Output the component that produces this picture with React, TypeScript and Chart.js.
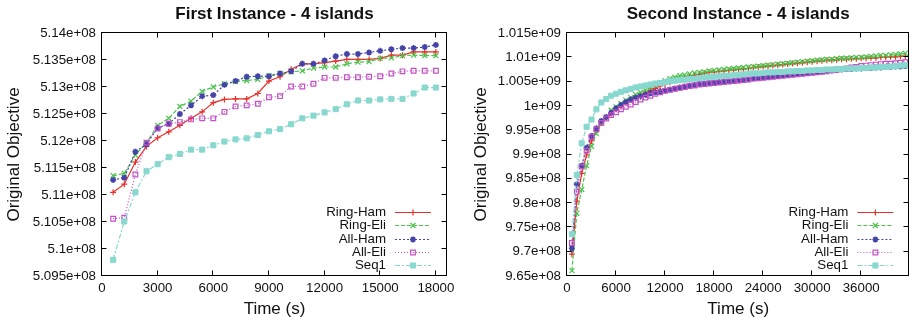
import React, { useEffect, useRef } from 'react';
import { Chart, registerables } from 'chart.js';

Chart.register(...registerables);

const FONT = '"Liberation Sans", Arial, Helvetica, sans-serif';
const SCALE = 1e6; // values below are in units of 1e6

const SERIES_NAMES = ['Ring-Ham', 'Ring-Eli', 'All-Ham', 'All-Eli', 'Seq1'];

// ---------- First Instance ----------
const TIMES_1 = [600, 1200, 1800, 2400, 3000, 3600, 4200, 4800, 5400, 6000, 6600, 7200, 7800, 8400, 9000, 9600, 10200, 10800, 11400, 12000, 12600, 13200, 13800, 14400, 15000, 15600, 16200, 16800, 17400, 18000];
const RING_HAM_1 = [511.05, 511.20, 511.61, 511.90, 512.06, 512.17, 512.29, 512.42, 512.54, 512.71, 512.77, 512.78, 512.78, 512.88, 513.11, 513.19, 513.33, 513.43, 513.43, 513.45, 513.48, 513.51, 513.51, 513.51, 513.53, 513.59, 513.59, 513.65, 513.65, 513.65];
const RING_ELI_1 = [511.36, 511.40, 511.74, 511.97, 512.29, 512.42, 512.64, 512.74, 512.92, 513.00, 513.06, 513.10, 513.12, 513.14, 513.21, 513.25, 513.28, 513.30, 513.35, 513.37, 513.37, 513.43, 513.46, 513.47, 513.53, 513.54, 513.58, 513.59, 513.58, 513.58];
const ALL_HAM_1 = [511.28, 511.32, 511.80, 511.94, 512.24, 512.32, 512.50, 512.66, 512.83, 512.85, 513.04, 513.11, 513.19, 513.20, 513.20, 513.25, 513.29, 513.43, 513.43, 513.49, 513.57, 513.61, 513.61, 513.64, 513.67, 513.70, 513.72, 513.72, 513.74, 513.78];
const ALL_ELI_1 = [510.56, 510.58, 511.38, 511.97, 512.23, 512.32, 512.35, 512.40, 512.42, 512.42, 512.54, 512.64, 512.66, 512.69, 512.81, 512.83, 513.01, 513.01, 513.06, 513.17, 513.17, 513.18, 513.18, 513.19, 513.20, 513.25, 513.29, 513.30, 513.30, 513.30];
const SEQ1_1 = [509.80, 510.51, 511.05, 511.44, 511.57, 511.70, 511.76, 511.84, 511.84, 511.92, 511.99, 512.03, 512.05, 512.11, 512.18, 512.22, 512.31, 512.42, 512.47, 512.53, 512.59, 512.68, 512.75, 512.75, 512.77, 512.78, 512.78, 512.88, 512.99, 512.99];
const X_TICKS_1 = [0, 3000, 6000, 9000, 12000, 15000, 18000];
const Y_TICKS_1 = [509.5, 510, 510.5, 511, 511.5, 512, 512.5, 513, 513.5, 514];

// ---------- Second Instance ----------
const TIMES_2 = [600, 1200, 1800, 2400, 3000, 3600, 4200, 4800, 5400, 6000,
  6600, 7200, 7800, 8400, 9000, 9600, 10200, 10800, 11400, 12000,
  12600, 13200, 13800, 14400, 15000, 15600, 16200, 16800, 17400, 18000,
  18600, 19200, 19800, 20400, 21000, 21600, 22200, 22800, 23400, 24000,
  24600, 25200, 25800, 26400, 27000, 27600, 28200, 28800, 29400, 30000,
  30600, 31200, 31800, 32400, 33000, 33600, 34200, 34800, 35400, 36000,
  36600, 37200, 37800, 38400, 39000, 39600, 40200, 40800, 41400];
const RING_HAM_2 = [969.5, 980.4, 986.1, 989.9, 992.8, 995.0, 996.5, 997.6, 998.4, 999.3,
  999.9, 1000.6, 1001.2, 1001.7, 1002.2, 1002.7, 1003.2, 1003.6, 1004.1, 1004.5,
  1004.9, 1005.3, 1005.6, 1005.9, 1006.1, 1006.3, 1006.5, 1006.7, 1006.9, 1007.0,
  1007.1, 1007.2, 1007.3, 1007.4, 1007.5, 1007.6, 1007.7, 1007.9, 1008.0, 1008.1,
  1008.2, 1008.3, 1008.4, 1008.5, 1008.6, 1008.7, 1008.8, 1008.9, 1009.0, 1009.1,
  1009.2, 1009.3, 1009.4, 1009.4, 1009.5, 1009.6, 1009.6, 1009.7, 1009.7, 1009.8,
  1009.8, 1009.9, 1009.9, 1010.0, 1010.0, 1010.1, 1010.1, 1010.2, 1010.2];
const RING_ELI_2 = [966.1, 977.9, 982.8, 987.7, 991.7, 994.3, 996.4, 997.7, 999.1, 999.8,
  1000.5, 1001.2, 1001.7, 1002.3, 1002.8, 1003.3, 1003.8, 1004.3, 1004.8, 1005.2,
  1005.6, 1005.9, 1006.2, 1006.4, 1006.6, 1006.8, 1006.9, 1007.0, 1007.2, 1007.3,
  1007.4, 1007.5, 1007.6, 1007.7, 1007.8, 1007.9, 1008.0, 1008.1, 1008.2, 1008.3,
  1008.4, 1008.5, 1008.6, 1008.7, 1008.8, 1008.9, 1009.0, 1009.1, 1009.2, 1009.3,
  1009.4, 1009.5, 1009.6, 1009.6, 1009.7, 1009.8, 1009.8, 1009.9, 1010.0, 1010.0,
  1010.1, 1010.2, 1010.3, 1010.4, 1010.4, 1010.5, 1010.6, 1010.7, 1010.8];
const ALL_HAM_2 = [970.7, 983.9, 987.7, 991.4, 993.8, 995.4, 996.9, 997.7, 998.6, 999.5,
  1000.2, 1000.8, 1001.3, 1001.7, 1002.0, 1002.3, 1002.6, 1002.8, 1003.0, 1003.2,
  1003.4, 1003.6, 1003.8, 1004.0, 1004.2, 1004.3, 1004.5, 1004.6, 1004.7, 1004.8,
  1004.9, 1005.0, 1005.1, 1005.2, 1005.3, 1005.4, 1005.5, 1005.7, 1005.8, 1005.9,
  1006.0, 1006.1, 1006.2, 1006.3, 1006.4, 1006.5, 1006.6, 1006.7, 1006.8, 1006.9,
  1007.0, 1007.1, 1007.2, 1007.3, 1007.4, 1007.5, 1007.6, 1007.6, 1007.7, 1007.7,
  1007.8, 1007.8, 1007.9, 1007.9, 1008.0, 1008.0, 1008.1, 1008.1, 1008.2];
const ALL_ELI_2 = [971.8, 982.3, 987.5, 990.8, 993.6, 995.2, 996.5, 997.4, 998.1, 998.7,
  999.3, 999.8, 1000.3, 1000.8, 1001.3, 1001.7, 1002.1, 1002.5, 1002.8, 1003.1,
  1003.3, 1003.5, 1003.7, 1003.9, 1004.1, 1004.2, 1004.4, 1004.5, 1004.6, 1004.7,
  1004.8, 1004.9, 1005.0, 1005.1, 1005.2, 1005.3, 1005.4, 1005.6, 1005.7, 1005.8,
  1005.9, 1006.0, 1006.1, 1006.2, 1006.3, 1006.4, 1006.5, 1006.6, 1006.7, 1006.8,
  1006.9, 1007.0, 1007.1, 1007.3, 1007.4, 1007.6, 1007.7, 1007.9, 1008.0, 1008.2,
  1008.3, 1008.4, 1008.5, 1008.6, 1008.7, 1008.7, 1008.8, 1008.9, 1009.0];
const SEQ1_2 = [973.6, 985.8, 992.3, 995.7, 997.2, 999.3, 1000.7, 1001.4, 1002.1, 1002.5,
  1002.9, 1003.2, 1003.5, 1003.8, 1004.0, 1004.2, 1004.4, 1004.6, 1004.7, 1004.9,
  1005.1, 1005.2, 1005.3, 1005.4, 1005.5, 1005.6, 1005.7, 1005.8, 1005.9, 1006.0,
  1006.1, 1006.2, 1006.2, 1006.3, 1006.4, 1006.5, 1006.6, 1006.7, 1006.7, 1006.8,
  1006.9, 1006.9, 1007.0, 1007.0, 1007.1, 1007.1, 1007.2, 1007.2, 1007.3, 1007.3,
  1007.4, 1007.4, 1007.5, 1007.5, 1007.6, 1007.6, 1007.7, 1007.7, 1007.7, 1007.8,
  1007.8, 1007.9, 1007.9, 1008.0, 1008.0, 1008.1, 1008.2, 1008.3, 1008.4];
const X_TICKS_2 = [0, 6000, 12000, 18000, 24000, 30000, 36000];
const Y_TICKS_2 = [965, 970, 975, 980, 985, 990, 995, 1000, 1005, 1010, 1015];

// ---------- styles ----------
type Sty = { color: string; dash: number[]; point: string; radius: number; filled: boolean; pw: number };
const STYLES: Sty[] = [
  { color: '#e8302a', dash: [], point: 'cross', radius: 3, filled: false, pw: 1.2 },
  { color: '#4cc24c', dash: [4, 2], point: 'crossRot', radius: 3.5, filled: false, pw: 1.2 },
  { color: '#4343a8', dash: [2, 2], point: 'star', radius: 3, filled: false, pw: 1.6 },
  { color: '#c452c4', dash: [1, 2], point: 'rect', radius: 3.3, filled: false, pw: 1.2 },
  { color: '#88d8d0', dash: [5, 2, 2, 2], point: 'rect', radius: 3.6, filled: true, pw: 1 },
];
const TEXT = '#111';

function gnuplotExp(v: number): string {
  const s = Number(Math.round(v)).toExponential();
  return s.replace(/e([+-])(\d)$/, (_m, sign, d) => 'e' + sign + '0' + d);
}

function drawMarker(ctx: CanvasRenderingContext2D, st: Sty, x: number, y: number) {
  const r = st.radius;
  ctx.save();
  ctx.setLineDash([]);
  ctx.lineWidth = st.pw;
  ctx.strokeStyle = st.color;
  ctx.fillStyle = st.color;
  ctx.beginPath();
  const d = r * Math.SQRT1_2;
  if (st.point === 'cross' || st.point === 'star') {
    ctx.moveTo(x - r, y); ctx.lineTo(x + r, y);
    ctx.moveTo(x, y - r); ctx.lineTo(x, y + r);
  }
  if (st.point === 'crossRot' || st.point === 'star') {
    ctx.moveTo(x - d, y - d); ctx.lineTo(x + d, y + d);
    ctx.moveTo(x - d, y + d); ctx.lineTo(x + d, y - d);
  }
  if (st.point === 'rect') {
    ctx.rect(x - d, y - d, 2 * d, 2 * d);
    if (st.filled) ctx.fill();
  }
  ctx.stroke();
  ctx.restore();
}

const framePlugin = {
  id: 'frame',
  afterDatasetsDraw(chart: any) {
    const { ctx, chartArea: a, scales } = chart;
    ctx.save();
    ctx.strokeStyle = '#000';
    ctx.lineWidth = 1;
    ctx.setLineDash([]);
    const L = Math.round(a.left) - 0.5, R = Math.round(a.right) - 0.5;
    const T = Math.round(a.top) - 0.5, B = Math.round(a.bottom) - 0.5;
    ctx.strokeRect(L, T, R - L, B - T);
    const len = 5;
    ctx.beginPath();
    scales.x.ticks.forEach((t: any) => {
      const px = Math.round(scales.x.getPixelForValue(t.value)) - 0.5;
      ctx.moveTo(px, B); ctx.lineTo(px, B - len);
      ctx.moveTo(px, T); ctx.lineTo(px, T + len);
    });
    scales.y.ticks.forEach((t: any) => {
      const py = Math.round(scales.y.getPixelForValue(t.value)) - 0.5;
      ctx.moveTo(L, py); ctx.lineTo(L + len, py);
      ctx.moveTo(R, py); ctx.lineTo(R - len, py);
    });
    ctx.stroke();
    ctx.restore();
  },
};

const panelPlugin = {
  id: 'panelDecor',
  afterDraw(chart: any, _args: any, opts: any) {
    const { ctx, chartArea: a } = chart;
    ctx.save();
    // title
    ctx.font = `bold 17px ${FONT}`;
    ctx.fillStyle = TEXT;
    ctx.textAlign = 'center';
    ctx.textBaseline = 'middle';
    ctx.fillText(opts.title, (a.left + a.right) / 2, 14.5);
    // legend
    const n = chart.data.datasets.length;
    ctx.font = `13.3px ${FONT}`;
    ctx.textAlign = 'right';
    chart.data.datasets.forEach((ds: any, i: number) => {
      const st = STYLES[i];
      const y = a.bottom - 10.7 - (n - 1 - i) * 13.33;
      ctx.fillStyle = TEXT;
      ctx.fillText(ds.label, a.right - 61, y + 0.5);
      ctx.save();
      ctx.strokeStyle = st.color;
      ctx.lineWidth = 1.2;
      ctx.setLineDash(st.dash);
      ctx.beginPath();
      ctx.moveTo(a.right - 52, Math.round(y) + 0.5);
      ctx.lineTo(a.right - 16, Math.round(y) + 0.5);
      ctx.stroke();
      ctx.restore();
      drawMarker(ctx, st, a.right - 34, Math.round(y) + 0.5);
    });
    ctx.restore();
  },
};

type Panel = {
  title: string;
  times: number[];
  series: number[][];
  xTicks: number[];
  yTicks: number[];
  xMax: number;
  yWidth: number;
  padRight: number;
  yTitlePad: number;
};

const PANEL_1: Panel = {
  title: 'First Instance - 4 islands',
  times: TIMES_1,
  series: [RING_HAM_1, RING_ELI_1, ALL_HAM_1, ALL_ELI_1, SEQ1_1],
  xTicks: X_TICKS_1,
  yTicks: Y_TICKS_1,
  xMax: 18600,
  yWidth: 102,
  padRight: 10,
  yTitlePad: 4.3,
};

const PANEL_2: Panel = {
  title: 'Second Instance - 4 islands',
  times: TIMES_2,
  series: [RING_HAM_2, RING_ELI_2, ALL_HAM_2, ALL_ELI_2, SEQ1_2],
  xTicks: X_TICKS_2,
  yTicks: Y_TICKS_2,
  xMax: 41900,
  yWidth: 110,
  padRight: 3,
  yTitlePad: 13.8,
};

function makeChart(canvas: HTMLCanvasElement, p: Panel) {
  const tickFont = { family: FONT, size: 13.3 };
  const titleFont = { family: FONT, size: 17 };
  return new Chart(canvas, {
    type: 'line',
    data: {
      datasets: p.series.map((vals, i) => {
        const st = STYLES[i];
        return {
          label: SERIES_NAMES[i],
          data: p.times.map((t, j) => ({ x: t, y: vals[j] * SCALE })),
          borderColor: st.color,
          backgroundColor: st.color,
          borderWidth: 1.2,
          borderDash: st.dash,
          pointStyle: st.point as any,
          pointRadius: st.radius,
          pointBorderWidth: st.pw,
          pointBorderColor: st.color,
          pointBackgroundColor: st.filled ? st.color : 'rgba(0,0,0,0)',
          tension: 0,
          fill: false,
          order: SERIES_NAMES.length - i,
        };
      }),
    },
    options: {
      animation: false,
      responsive: true,
      maintainAspectRatio: false,
      events: [],
      layout: { padding: { top: 33, right: p.padRight, left: 0, bottom: 0 } },
      plugins: {
        legend: { display: false },
        tooltip: { enabled: false },
        panelDecor: { title: p.title },
      } as any,
      scales: {
        x: {
          type: 'linear',
          min: 0,
          max: p.xMax,
          grid: { display: false, drawTicks: false },
          border: { display: false },
          ticks: {
            font: tickFont,
            color: TEXT,
            padding: 4,
            autoSkip: false,
            maxRotation: 0,
            callback: (v: any) => String(v),
          },
          afterBuildTicks: (s: any) => {
            s.ticks = p.xTicks.map((v) => ({ value: v }));
          },
          afterFit: (s: any) => {
            s.height = 48;
            s.paddingLeft = 0;
            s.paddingRight = 0;
          },
          title: {
            display: true,
            text: 'Time (s)',
            font: titleFont,
            color: TEXT,
            padding: { top: 0, bottom: 4 },
          },
        },
        y: {
          type: 'linear',
          min: p.yTicks[0] * SCALE,
          max: p.yTicks[p.yTicks.length - 1] * SCALE,
          grid: { display: false, drawTicks: false },
          border: { display: false },
          ticks: {
            font: tickFont,
            color: TEXT,
            padding: 6,
            autoSkip: false,
            callback: (v: any) => gnuplotExp(Number(v)),
          },
          afterBuildTicks: (s: any) => {
            s.ticks = p.yTicks.map((v) => ({ value: v * SCALE }));
          },
          afterFit: (s: any) => {
            s.width = p.yWidth;
            s.paddingTop = 0;
            s.paddingBottom = 0;
          },
          title: {
            display: true,
            text: 'Original Objective',
            font: titleFont,
            color: TEXT,
            padding: { top: p.yTitlePad, bottom: 0 },
          },
        },
      },
    } as any,
    plugins: [framePlugin, panelPlugin],
  });
}

export default function App() {
  const leftRef = useRef<HTMLCanvasElement>(null);
  const rightRef = useRef<HTMLCanvasElement>(null);

  useEffect(() => {
    const c1 = makeChart(leftRef.current!, PANEL_1);
    const c2 = makeChart(rightRef.current!, PANEL_2);
    return () => {
      c1.destroy();
      c2.destroy();
    };
  }, []);

  return (
    <div style={{ position: 'absolute', left: 0, top: 0, width: 915, height: 324, background: '#fff' }}>
      <div style={{ position: 'absolute', left: 0, top: 0, width: 457, height: 324 }}>
        <canvas ref={leftRef} />
      </div>
      <div style={{ position: 'absolute', left: 457, top: 0, width: 458, height: 324 }}>
        <canvas ref={rightRef} />
      </div>
    </div>
  );
}
